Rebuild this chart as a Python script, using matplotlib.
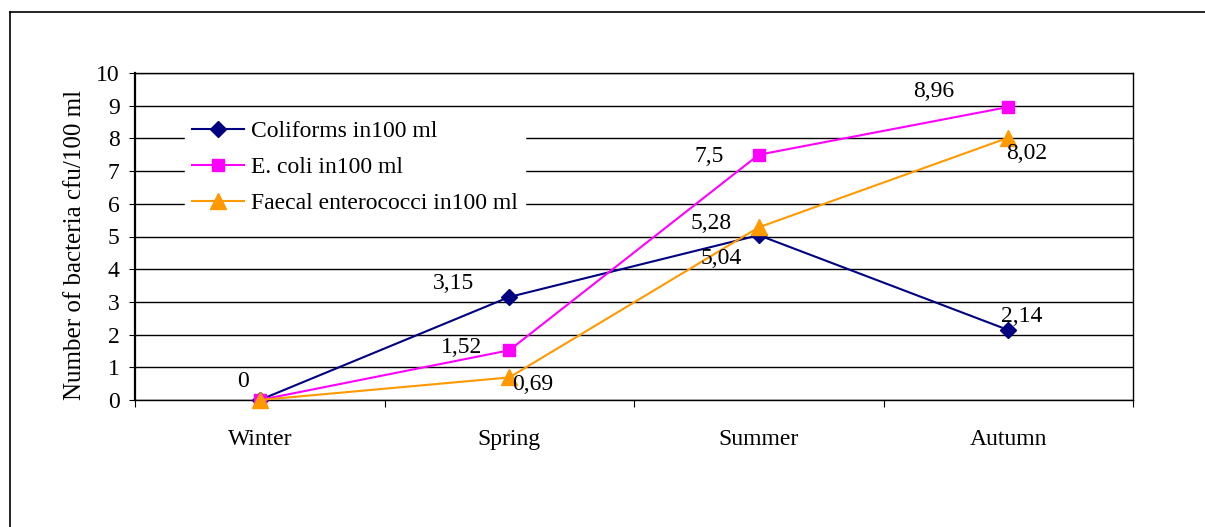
"""
Seasonal bacteria counts (cfu/100 ml)
"""
import matplotlib
matplotlib.use("Agg")
import matplotlib.pyplot as plt
from matplotlib.lines import Line2D
from matplotlib.ticker import FixedLocator

# ------------------- Data: ---------------------------------------------------------
seasons = ["Winter", "Spring", "Summer", "Autumn"]

coliforms = [0, 3.15, 5.04, 2.14]
e_coli = [0, 1.52, 7.5, 8.96]
enterococci = [0, 0.69, 5.28, 8.02]

coliforms_labels = ["0", "3,15", "5,04", "2,14"]
e_coli_labels = [None, "1,52", "7,5", "8,96"]
enterococci_labels = [None, "0,69", "5,28", "8,02"]

# label offsets in points
coliforms_offsets = [(-12, 13), (-40, 10), (-27, -17), (10, 10)]
e_coli_offsets = [None, (-34, 2), (-36, -1), (-54, 11)]
enterococci_offsets = [None, (17, -5), (-34, 3), (13, -11)]

# ------------------- Plotting: -----------------------------------------------------
plt.rcParams['font.family'] = ['Liberation Serif', 'DejaVu Serif']
plt.rcParams['font.size'] = 17

fig = plt.figure(figsize=(12.05, 5.27), dpi=100)
ax = fig.add_axes([135 / 1205, 1 - 400 / 527, 998 / 1205, 327 / 527])

x = range(len(seasons))
series = [
    (coliforms, coliforms_labels, coliforms_offsets, "#000080", "D", 8.5, "Coliforms in100 ml"),
    (e_coli, e_coli_labels, e_coli_offsets, "#FF00FF", "s", 8.5, "E. coli in100 ml"),
    (enterococci, enterococci_labels, enterococci_offsets, "#FF9900", "^", 11, "Faecal enterococci in100 ml"),
]

for values, labels, offsets, color, marker, ms, name in series:
    ax.plot(x, values, color=color, marker=marker, markersize=ms, linewidth=1.5,
            label=name, zorder=3, clip_on=False)
    for xi, v, lab, off in zip(x, values, labels, offsets):
        if lab is None:
            continue
        ax.annotate(lab, (xi, v), textcoords='offset points', xytext=off,
                    ha='center', va='center', zorder=4)

ax.set_xlim(-0.5, 3.5)
ax.set_ylim(0, 10)
ax.set_yticks(range(0, 11))
ax.set_xticks(list(x))
ax.set_xticklabels(seasons)
ax.xaxis.set_minor_locator(FixedLocator([-0.5, 0.5, 1.5, 2.5, 3.5]))
ax.tick_params(axis='x', which='major', length=0, pad=21)
ax.tick_params(axis='x', which='minor', length=5, width=0.8, direction='out')
ax.tick_params(axis='y', length=4, width=0.8, direction='out', pad=7)

ax.grid(axis='y', color='black', linewidth=1)
ax.set_axisbelow(True)
for side in ['top', 'right', 'bottom']:
    ax.spines[side].set_linewidth(1)
ax.spines['left'].set_linewidth(1.6)

ax.set_ylabel('Number of bacteria cfu/100 ml', fontsize=18, va='center')
ax.yaxis.set_label_coords(-0.06, 0.475)

ax.legend(loc='upper left', bbox_to_anchor=(0.05, 0.875), frameon=True,
          edgecolor='white', framealpha=1, fancybox=False,
          handlelength=2.2, borderpad=0.3, labelspacing=0.6, handletextpad=0.3,
          borderaxespad=0)

# outer frame (top and left edges visible)
fig.add_artist(Line2D([10 / 1205, 10 / 1205], [0, 1 - 12 / 527], color='black', linewidth=1.2))
fig.add_artist(Line2D([10 / 1205, 1], [1 - 12 / 527, 1 - 12 / 527], color='black', linewidth=1.2))

fig.savefig('out.png', dpi=100)
